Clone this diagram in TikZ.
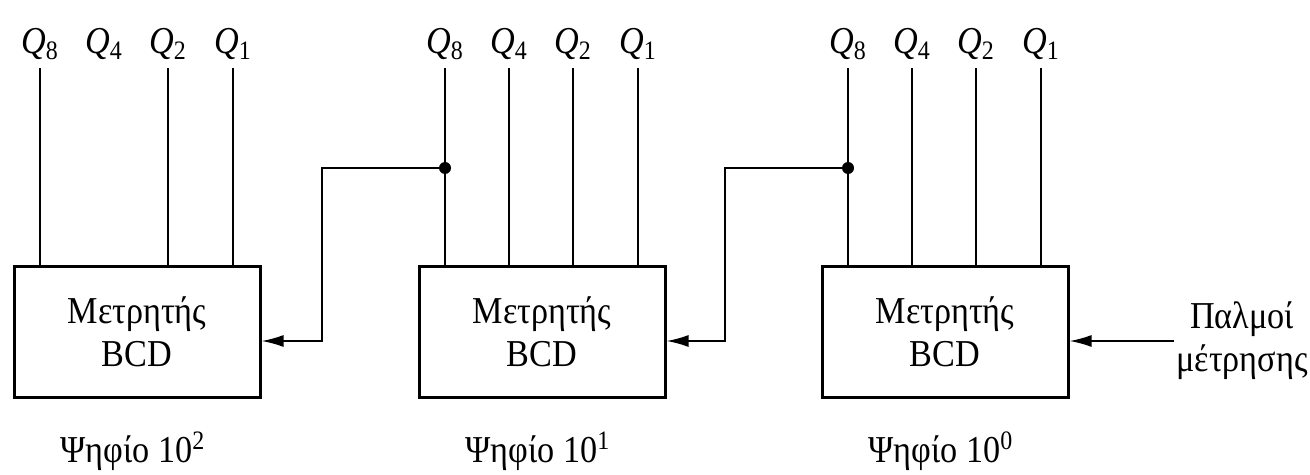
\documentclass[tikz,border=0pt]{standalone}
\usepackage{fontspec}
\setmainfont[FakeStretch=0.9]{Liberation Serif}
\usetikzlibrary{arrows.meta}

\begin{document}
\begin{tikzpicture}[
        x=0.5pt,
        y=-0.5pt,
        every node/.style={font=\fontsize{19}{21.5}\selectfont},
        counter box/.style={draw,line width=1.5pt,minimum width=123pt,minimum height=65pt,inner sep=0pt,align=center},
        pin label/.style={anchor=south,inner sep=4pt},
        pin line/.style={line width=0.9pt},
        carry line/.style={line width=0.9pt,-{Latex[length=11pt,width=6pt]}},
        junction dot/.style={circle,fill=black,minimum size=6pt,inner sep=0pt}
    ]
        \useasboundingbox (0,0) rectangle (1310,475);

        % the three counters with their outputs
        \foreach \name/\cx/\p in {hund/137/2, tens/542/1, ones/945/0} {
            \node[counter box] (\name) at (\cx,332) {Μετρητής\\BCD};
            \node (\name digit) at (\cx-4,451) {Ψηφίο 10\textsuperscript{\p}};
            \foreach \w/\dx in {8/-97,4/-33,2/31,1/96} {
                \node[pin label] (\name q\w) at (\cx+\dx,68) {\textit{Q}\textsubscript{\w}};
            }
        }

        \foreach \pin/\cnt in {hundq8/hund,hundq2/hund,hundq1/hund,
                tensq8/tens,tensq4/tens,tensq2/tens,tensq1/tens,
                onesq8/ones,onesq4/ones,onesq2/ones,onesq1/ones} {
            \draw[pin line] (\pin.south) -- (\pin.south |- \cnt.north);
        }

        % carry from Q8 to the next counter
        \coordinate (hundin) at ([yshift=-4.5pt]hund.east);
        \coordinate (tensin) at ([yshift=-4.5pt]tens.east);
        \coordinate (onesin) at ([yshift=-4.5pt]ones.east);
        \coordinate (hundbend) at (322,341);
        \coordinate (tensbend) at (725,341);

        \node[junction dot] (tensjoin) at (tensq8.south |- 0,168) {};
        \node[junction dot] (onesjoin) at (onesq8.south |- 0,168) {};

        \draw[carry line] (tensjoin) -| (hundbend) -- (hundin);
        \draw[carry line] (onesjoin) -| (tensbend) -- (tensin);

        % count pulses
        \node[align=center,anchor=west,inner sep=1pt] (pulses) at (1174,341) {Παλμοί\\μέτρησης};
        \draw[carry line] (pulses.west) -- (onesin);
    \end{tikzpicture}
\end{document}
